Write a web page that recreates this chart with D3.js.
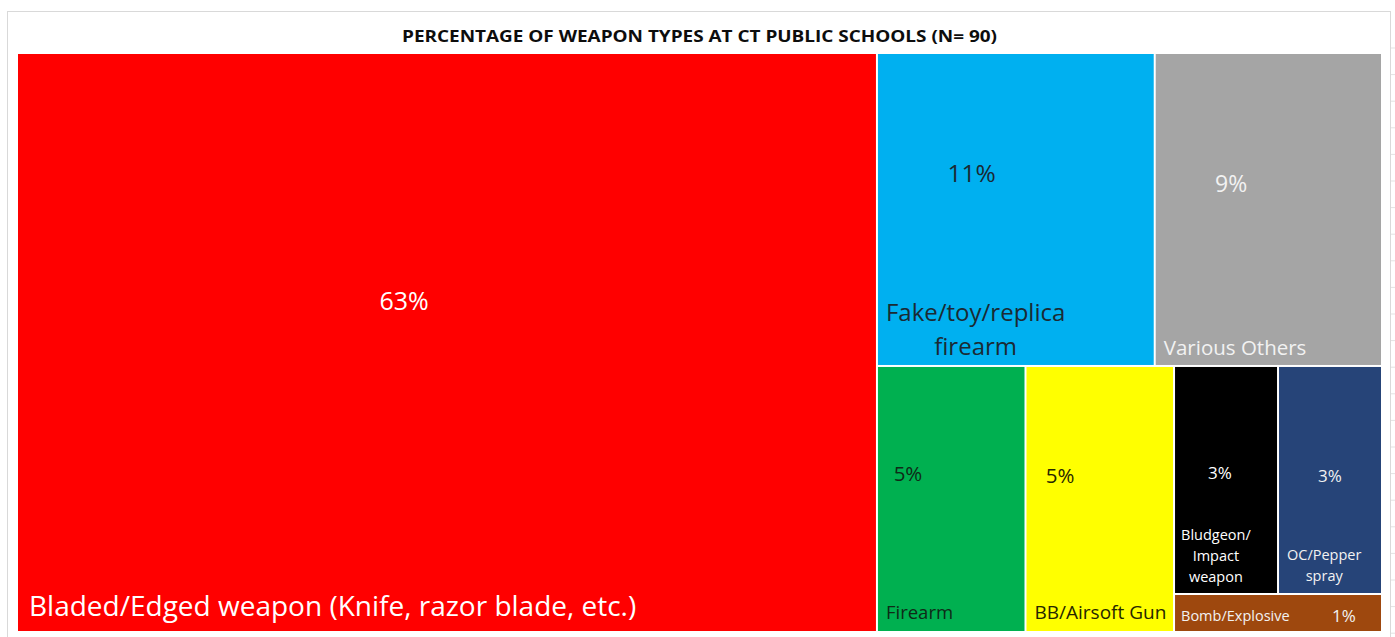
<!DOCTYPE html>
<html>
<head>
<meta charset="utf-8">
<script src="https://cdn.jsdelivr.net/npm/d3@7"></script>
<style>
  html, body { margin: 0; padding: 0; background: #fff; }
  svg { display: block; }
  text { font-family: "Open Sans", "Noto Sans", sans-serif; }
</style>
</head>
<body>
<svg id="chart" width="1395" height="637"></svg>
<script>
// ---- data ----
const title = "PERCENTAGE OF WEAPON TYPES AT CT PUBLIC SCHOOLS (N= 90)";
const categories = [
  "Bladed/Edged weapon (Knife, razor blade, etc.)",
  "Fake/toy/replica firearm",
  "Various Others",
  "Firearm",
  "BB/Airsoft Gun",
  "Bludgeon/ Impact weapon",
  "OC/Pepper spray",
  "Bomb/Explosive"
];
const values = [63, 11, 9, 5, 5, 3, 3, 1];
// grouping path used by the treemap (Excel-like layout)
const groups = ["", "rest/top", "rest/top", "rest/bottom", "rest/bottom", "rest/bottom/small/pair", "rest/bottom/small/pair", "rest/bottom/small"];
// line breaks of category names as displayed
const nameLines = [
  ["Bladed/Edged weapon (Knife, razor blade, etc.)"],
  ["Fake/toy/replica", "firearm"],
  ["Various Others"],
  ["Firearm"],
  ["BB/Airsoft Gun"],
  ["Bludgeon/", "Impact", "weapon"],
  ["OC/Pepper", "spray"],
  ["Bomb/Explosive"]
];

// ---- styles ----
const colors = ["#FF0000", "#00B0F0", "#A5A5A5", "#00B050", "#FFFF00", "#000000", "#264478", "#9E480E"];
const textColors = ["#FFFFFF", "#1B2A33", "#F2F2F2", "#0F2A17", "#262600", "#FFFFFF", "#F2F2F2", "#F2F2F2"];
const nameSizes = [28, 24, 20.5, 18.5, 19, 14.5, 14.5, 14.5];
const nameLineH = [30, 34, 24, 22, 22, 21, 21, 16];
const nameBottom = [15, 10, 10, 12, 12, 11, 12, 10];
const namePad = [11, 8, 8, 8, 8, 6, 8, 6];
const pctSizes = [25, 24.5, 23, 20.5, 20.5, 17, 17, 17];
const pctAnchor = [[0.45, 0.426], [0.34, 0.38], [0.335, 0.416], [0.205, 0.40], [0.23, 0.41], [0.44, 0.465], [0.5, 0.48], [0.82, 0.57]];

const svg = d3.select("#chart");
const W = 1395, H = 637;

// spreadsheet gridlines at the right edge
svg.append("g").selectAll("line").data(d3.range(48, H, 26.6)).join("line")
  .attr("x1", 1391).attr("x2", W).attr("y1", d => d).attr("y2", d => d)
  .attr("stroke", "#e3e3e3").attr("stroke-width", 1);

// chart frame
svg.append("rect").attr("x", 7.5).attr("y", 11.5).attr("width", 1383).attr("height", H + 10)
  .attr("fill", "#fff").attr("stroke", "#d9d9d9").attr("stroke-width", 1);

// title
svg.append("text").attr("x", 699.5).attr("y", 42).attr("text-anchor", "middle")
  .attr("font-size", 16).attr("font-weight", 700).attr("fill", "#0d0d0d")
  .attr("textLength", 595).attr("lengthAdjust", "spacingAndGlyphs")
  .text(title);

// hierarchy
const rows = categories.map((c, i) => ({ id: (groups[i] ? "root/" + groups[i] + "/" : "root/") + "leaf" + i, i }));
const ids = new Set(["root"]);
rows.forEach(r => { const parts = r.id.split("/"); for (let k = 1; k < parts.length; k++) ids.add(parts.slice(0, k).join("/")); });
const table = [...ids].map(id => ({ id, i: -1 })).concat(rows);
const root = d3.stratify().id(d => d.id).parentId(d => {
  const p = d.id.lastIndexOf("/"); return p < 0 ? null : d.id.slice(0, p);
})(table);
root.sum(d => d.i >= 0 ? values[d.i] : 0);
// keep original order
root.sort((a, b) => a.leaves()[0].data.i - b.leaves()[0].data.i);

// Excel-like tiling
function tile(node, x0, y0, x1, y1) {
  const name = node.data.id.split("/").pop();
  if (name === "small" || name === "rest") d3.treemapSlice(node, x0, y0, x1, y1);
  else d3.treemapDice(node, x0, y0, x1, y1);
}

d3.treemap().tile(tile).size([1381 - 18, 631 - 54]).paddingInner(2).round(false)(root);

const g = svg.append("g").attr("transform", "translate(18,54)");
const leaves = root.leaves();

const cell = g.selectAll("g.cell").data(leaves).join("g").attr("class", "cell");
cell.append("rect")
  .attr("x", d => d.x0).attr("y", d => d.y0)
  .attr("width", d => d.x1 - d.x0).attr("height", d => d.y1 - d.y0)
  .attr("fill", d => colors[d.data.i]);

// percentage labels
cell.append("text")
  .attr("x", d => d.x0 + (d.x1 - d.x0) * pctAnchor[d.data.i][0])
  .attr("y", d => d.y0 + (d.y1 - d.y0) * pctAnchor[d.data.i][1])
  .attr("text-anchor", "middle").attr("dominant-baseline", "central")
  .attr("font-size", d => pctSizes[d.data.i])
  .attr("fill", d => textColors[d.data.i])
  .text(d => values[d.data.i] + "%");

// name labels: block anchored bottom-left, lines centered within the block
cell.each(function (d) {
  const i = d.data.i;
  const lines = nameLines[i];
  const t = d3.select(this).append("text")
    .attr("font-size", nameSizes[i]).attr("fill", textColors[i]);
  const n = lines.length;
  const spans = t.selectAll("tspan").data(lines).join("tspan")
    .attr("y", (l, k) => d.y1 - nameBottom[i] - (n - 1 - k) * nameLineH[i])
    .text(l => l);
  let maxW = 0;
  spans.each(function () { maxW = Math.max(maxW, this.getComputedTextLength()); });
  const cx = d.x0 + namePad[i] + maxW / 2;
  spans.attr("x", cx).attr("text-anchor", "middle");
});
</script>
</body>
</html>
